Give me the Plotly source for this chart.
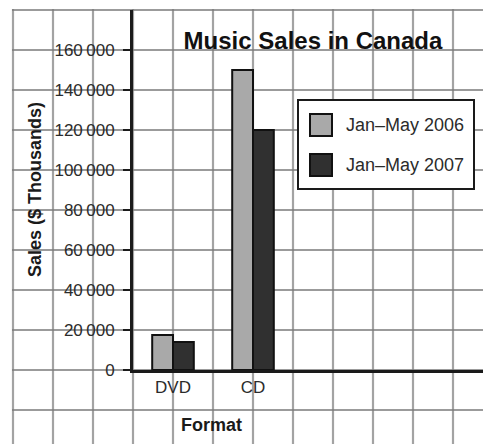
import plotly.graph_objects as go

# ---- data ----
categories = ["DVD", "CD"]
series_names = ["Jan\u2013May 2006", "Jan\u2013May 2007"]
sales_2006 = [17500, 150000]
sales_2007 = [14000, 120000]
y_tick_values = [0, 20000, 40000, 60000, 80000, 100000, 120000, 140000, 160000]
y_tick_labels = ["0", "20\u2009000", "40\u2009000", "60\u2009000", "80\u2009000",
                 "100\u2009000", "120\u2009000", "140\u2009000", "160\u2009000"]
title_text = "Music Sales in Canada"
y_title = "Sales ($ Thousands)"
x_title = "Format"

W, H = 483, 444
FONT = "Liberation Sans, Arial, Helvetica, sans-serif"
TXT = "#2b2b2b"
colors = ["#a9a9a9", "#303030"]


def fx(p):
    return p / W


def fy(p):
    return 1 - p / H


fig = go.Figure()
for name, vals, col in zip(series_names, [sales_2006, sales_2007], colors):
    fig.add_trace(go.Bar(
        x=categories, y=vals, name=name, showlegend=False,
        marker=dict(color=col, line=dict(color="#111111", width=2)),
    ))

shapes = []
# graph-paper grid (background)
for k in range(12):
    x = 13 + 40 * k
    shapes.append(dict(type="line", xref="paper", yref="paper", layer="below",
                       x0=fx(x), x1=fx(x), y0=fy(9), y1=fy(444),
                       line=dict(color="#a3a3a3", width=2.2)))
for k in range(11):
    y = 10 + 40 * k
    shapes.append(dict(type="line", xref="paper", yref="paper", layer="below",
                       x0=fx(12), x1=fx(483), y0=fy(y), y1=fy(y),
                       line=dict(color="#7a7a7a", width=1.6)))

# legend box
shapes.append(dict(type="rect", xref="paper", yref="paper", layer="above",
                   x0=fx(298), x1=fx(474), y0=fy(100), y1=fy(189),
                   fillcolor="white", line=dict(color="#1a1a1a", width=2)))
annotations = []
for i, (name, col) in enumerate(zip(series_names, colors)):
    top = 114 + 40 * i
    shapes.append(dict(type="rect", xref="paper", yref="paper", layer="above",
                       x0=fx(310), x1=fx(332), y0=fy(top), y1=fy(top + 22),
                       fillcolor=col, line=dict(color="#111111", width=2)))
    annotations.append(dict(xref="paper", yref="paper", x=fx(344), y=fy(top + 11),
                            xanchor="left", yanchor="middle", showarrow=False,
                            text=name, font=dict(family=FONT, size=18, color=TXT)))

annotations.append(dict(xref="paper", yref="paper", x=fx(35), y=fy(190),
                        xanchor="center", yanchor="middle", showarrow=False,
                        textangle=-90, text="<b>%s</b>" % y_title,
                        font=dict(family=FONT, size=18, color="#1a1a1a")))
annotations.append(dict(xref="paper", yref="paper", x=fx(211), y=fy(425),
                        xanchor="center", yanchor="middle", showarrow=False,
                        text="<b>%s</b>" % x_title,
                        font=dict(family=FONT, size=18, color="#1a1a1a")))

fig.update_layout(
    width=W, height=H,
    margin=dict(l=0, r=0, t=0, b=0, autoexpand=False),
    paper_bgcolor="white", plot_bgcolor="rgba(0,0,0,0)",
    barmode="group", bargap=0.48, bargroupgap=0,
    title=dict(text="<b>%s</b>" % title_text, x=fx(313), xanchor="center",
               y=fy(41), yanchor="middle", automargin=False,
               font=dict(family=FONT, size=24, color="#111111")),
    xaxis=dict(type="category", domain=[fx(133), 1], range=[-0.5, 3.875],
               automargin=False,
               showgrid=False, zeroline=False, showline=True,
               linecolor="#1a1a1a", linewidth=3, ticks="",
               tickfont=dict(family=FONT, size=17, color=TXT),
               ticklabelstandoff=0),
    yaxis=dict(domain=[fy(370), fy(10)], range=[0, 180000],
               automargin=False,
               tickvals=y_tick_values, ticktext=y_tick_labels,
               showgrid=False, zeroline=False, showline=True,
               linecolor="#1a1a1a", linewidth=3,
               ticks="outside", ticklen=7, tickwidth=2, tickcolor="#1a1a1a",
               tickfont=dict(family=FONT, size=17, color=TXT),
               ticklabelstandoff=5),
    shapes=shapes, annotations=annotations,
)

fig.write_html("out.html")
